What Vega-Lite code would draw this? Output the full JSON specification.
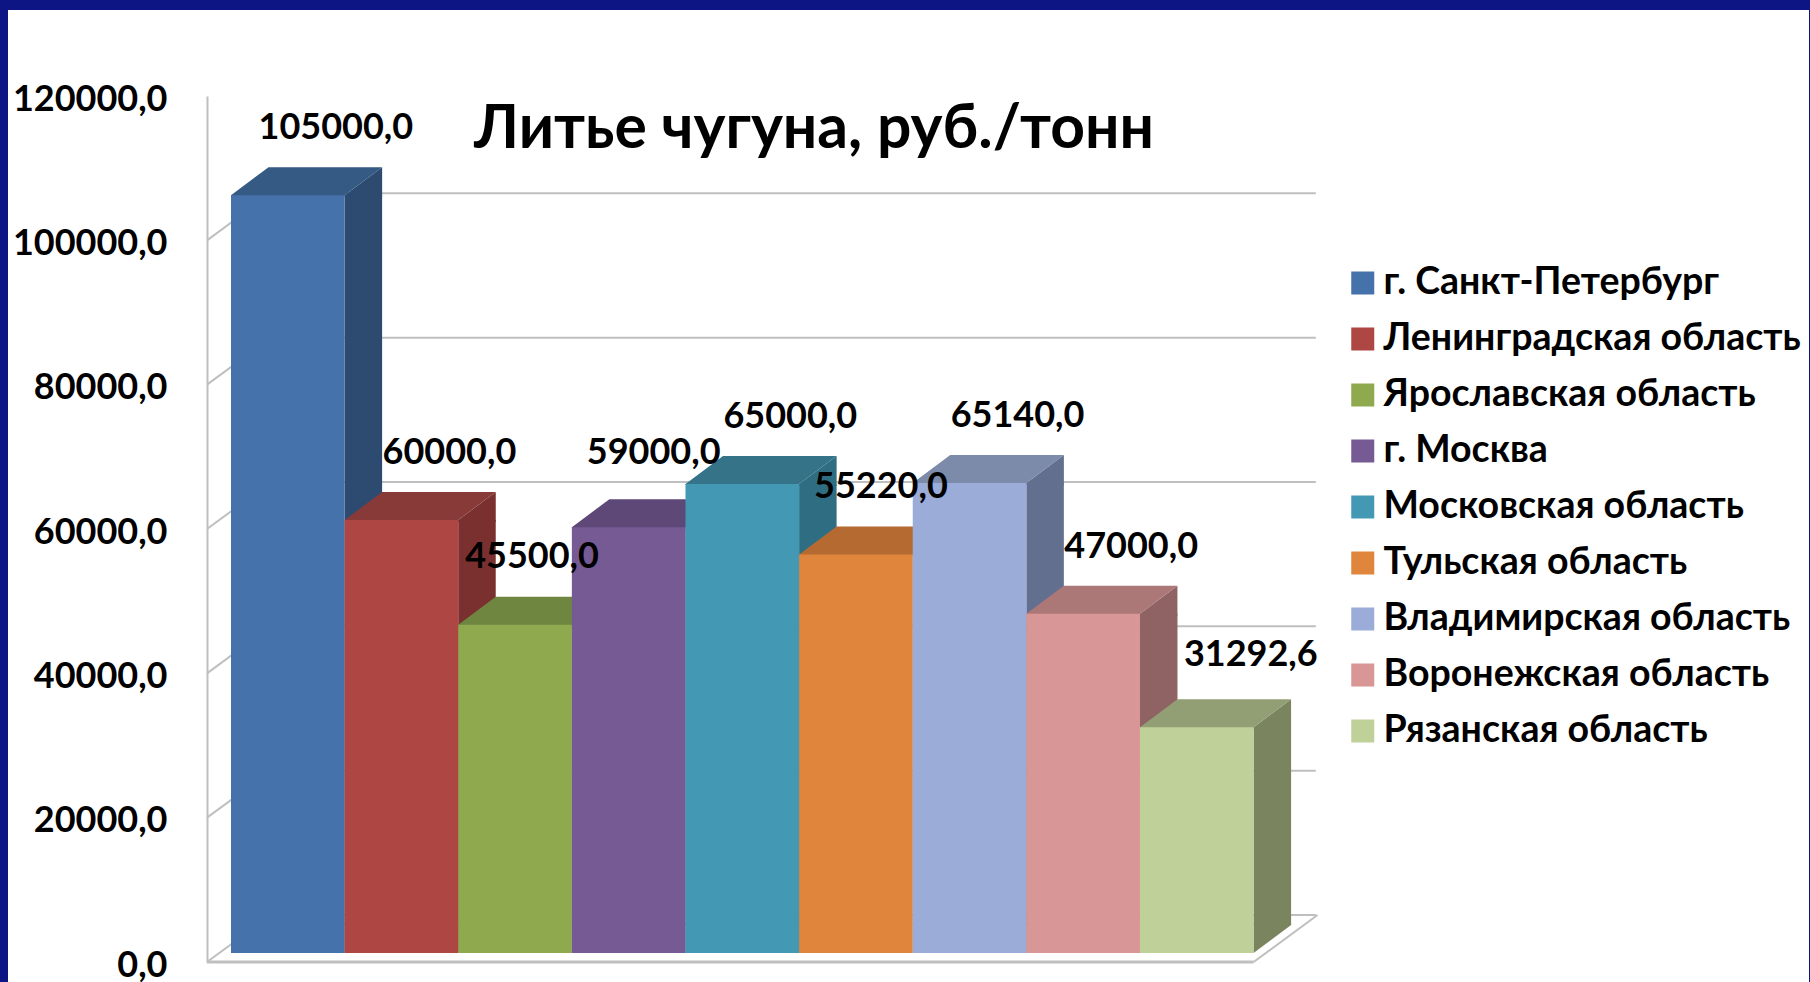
{"$schema":"https://vega.github.io/schema/vega-lite/v6.json","width":1801,"height":972,"autosize":{"type":"none"},"padding":{"left":8,"top":10,"right":1,"bottom":0},"background":"#0D1585","view":{"fill":"#FFFFFF","stroke":null},"title":{"text":"Литье чугуна, руб./тонн","anchor":"start","frame":"group","font":"Lato","fontSize":60.6,"fontWeight":"bold","color":"#000000","dx":466,"dy":151,"offset":0},"datasets":{"regions":[{"region":"г. Санкт-Петербург","price":105000,"label":"105000,0"},{"region":"Ленинградская область","price":60000,"label":"60000,0"},{"region":"Ярославская область","price":45500,"label":"45500,0"},{"region":"г. Москва","price":59000,"label":"59000,0"},{"region":"Московская область","price":65000,"label":"65000,0"},{"region":"Тульская область","price":55220,"label":"55220,0"},{"region":"Владимирская область","price":65140,"label":"65140,0"},{"region":"Воронежская область","price":47000,"label":"47000,0"},{"region":"Рязанская область","price":31292.6,"label":"31292,6"}],"grid":[{"tick":0},{"tick":20000},{"tick":40000},{"tick":60000},{"tick":80000},{"tick":100000}]},"encoding":{"x":{"field":"region","type":"nominal","sort":null,"axis":null,"scale":{"domain":["г. Санкт-Петербург","Ленинградская область","Ярославская область","г. Москва","Московская область","Тульская область","Владимирская область","Воронежская область","Рязанская область"],"range":[223,1245.6],"paddingInner":0,"paddingOuter":0}}},"layer":[{"data":{"name":"grid"},"mark":{"type":"rule","color":"#BFBFBF","strokeWidth":2,"yOffset":-47,"x2Offset":119},"encoding":{"x":{"datum":"г. Санкт-Петербург"},"x2":{"datum":"Рязанская область"},"y":{"field":"tick","type":"quantitative","scale":{"domain":[0,120000],"range":[952,86],"nice":false},"axis":{"values":[0,20000,40000,60000,80000,100000,120000],"title":null,"offset":-199,"grid":false,"ticks":false,"domainColor":"#BFBFBF","domainWidth":2,"labelPadding":40,"labelFont":"Lato","labelFontSize":36,"labelFontWeight":"bold","labelColor":"#000000","labelOffset":3,"labelExpr":"replace(format(datum.value,'.1f'),'.',',')"}}}},{"data":{"name":"grid"},"mark":{"type":"point","shape":"M0,0 L64,-47","size":4,"filled":false,"color":"#BFBFBF","strokeWidth":2,"opacity":1,"xOffset":-80.8},"encoding":{"x":{"datum":"г. Санкт-Петербург"},"y":{"field":"tick","type":"quantitative"}}},{"data":{"name":"grid"},"transform":[{"filter":"datum.tick==0"}],"mark":{"type":"rule","color":"#BFBFBF","strokeWidth":3,"xOffset":-80.8,"x2Offset":56.8},"encoding":{"x":{"datum":"г. Санкт-Петербург"},"x2":{"datum":"Рязанская область"},"y":{"field":"tick","type":"quantitative"}}},{"data":{"name":"grid"},"transform":[{"filter":"datum.tick==0"}],"mark":{"type":"point","shape":"M0,0 L64,-47","size":4,"filled":false,"color":"#BFBFBF","strokeWidth":2,"opacity":1,"xOffset":56.8},"encoding":{"x":{"datum":"Рязанская область"},"y":{"field":"tick","type":"quantitative"}}},{"data":{"name":"regions"},"mark":{"type":"bar","width":37.5,"xOffset":75.55,"yOffset":-9,"y2Offset":-37},"encoding":{"y":{"field":"price","type":"quantitative"},"y2":{"datum":0},"color":{"field":"region","type":"nominal","sort":null,"legend":null,"scale":{"range":["#2D4B70","#7A302F","#5F7234","#4F3D64","#2F6E82","#935727","#626F8E","#8F6363","#7A8560"]}}}},{"data":{"name":"regions"},"mark":{"type":"point","shape":"M56.8,0 L94.3,-28 L94.3,2 L56.8,2 Z","size":4,"filled":true,"opacity":1,"strokeWidth":0,"yOffset":-9},"encoding":{"y":{"field":"price","type":"quantitative"},"color":{"field":"region","type":"nominal","sort":null,"legend":null,"scale":{"range":["#2D4B70","#7A302F","#5F7234","#4F3D64","#2F6E82","#935727","#626F8E","#8F6363","#7A8560"]}}}},{"data":{"name":"regions"},"mark":{"type":"point","shape":"M56.8,0 L94.3,-28 L94.3,-30 L56.8,-30 Z","size":4,"filled":true,"opacity":1,"strokeWidth":0,"yOffset":-9},"encoding":{"y":{"datum":0,"type":"quantitative"},"color":{"field":"region","type":"nominal","sort":null,"legend":null,"scale":{"range":["#2D4B70","#7A302F","#5F7234","#4F3D64","#2F6E82","#935727","#626F8E","#8F6363","#7A8560"]}}}},{"data":{"name":"regions"},"mark":{"type":"point","shape":"M-56.8,1 L-56.8,0 L-19.3,-28 L94.3,-28 L56.8,0 L56.8,1 Z","size":4,"filled":true,"opacity":1,"strokeWidth":0,"yOffset":-9},"encoding":{"y":{"field":"price","type":"quantitative"},"color":{"field":"region","type":"nominal","sort":null,"legend":null,"scale":{"range":["#355A83","#883A38","#6E8640","#5E4878","#357488","#B56A31","#7C8BAA","#AC7777","#929F75"]}}}},{"data":{"name":"regions"},"mark":{"type":"bar","yOffset":-9,"y2Offset":-9},"encoding":{"y":{"field":"price","type":"quantitative"},"y2":{"datum":0},"color":{"field":"region","type":"nominal","sort":null,"scale":{"range":["#4672AB","#AE4643","#8EA94E","#765A94","#4399B4","#E0853C","#9AACD7","#D99696","#BFD099"]},"legend":{"orient":"none","legendX":1336,"legendY":253,"title":null,"symbolType":"square","symbolSize":529,"symbolStrokeWidth":0,"labelFont":"Lato","labelFontSize":37.5,"labelFontWeight":"bold","labelColor":"#000000","labelOffset":2,"rowPadding":16,"clipHeight":40,"labelLimit":500}}}},{"data":{"name":"regions"},"transform":[{"filter":"datum.price==105000||datum.price==60000||datum.price==65000||datum.price==65140||datum.price==47000"}],"mark":{"type":"text","font":"Lato","fontSize":36,"fontWeight":"bold","color":"#000000","dx":48,"dy":-76},"encoding":{"y":{"field":"price","type":"quantitative"},"text":{"field":"label"}}},{"data":{"name":"regions"},"transform":[{"filter":"datum.price==45500"}],"mark":{"type":"text","font":"Lato","fontSize":36,"fontWeight":"bold","color":"#000000","dx":17,"dy":-77},"encoding":{"y":{"field":"price","type":"quantitative"},"text":{"field":"label"}}},{"data":{"name":"regions"},"transform":[{"filter":"datum.price==59000"}],"mark":{"type":"text","font":"Lato","fontSize":36,"fontWeight":"bold","color":"#000000","dx":25,"dy":-83},"encoding":{"y":{"field":"price","type":"quantitative"},"text":{"field":"label"}}},{"data":{"name":"regions"},"transform":[{"filter":"datum.price==55220"}],"mark":{"type":"text","font":"Lato","fontSize":36,"fontWeight":"bold","color":"#000000","dx":25,"dy":-76},"encoding":{"y":{"field":"price","type":"quantitative"},"text":{"field":"label"}}},{"data":{"name":"regions"},"transform":[{"filter":"datum.price==31292.6"}],"mark":{"type":"text","font":"Lato","fontSize":36,"fontWeight":"bold","color":"#000000","dx":54,"dy":-81},"encoding":{"y":{"field":"price","type":"quantitative"},"text":{"field":"label"}}}],"resolve":{"scale":{"color":"independent"}}}
